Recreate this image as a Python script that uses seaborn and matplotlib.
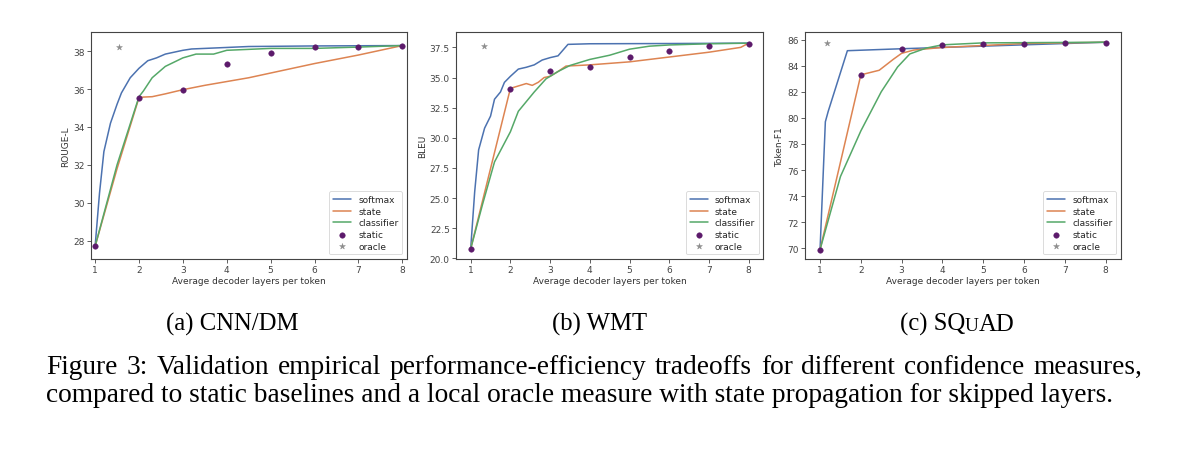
import matplotlib
matplotlib.use("Agg")
import matplotlib.pyplot as plt
import seaborn as sns
import pandas as pd

sns.set_theme(style="ticks", palette="deep")
plt.rcParams['font.family'] = ['DejaVu Sans']

"""
DATA
"""
# (a) CNN/DM
cnn_softmax_x = [1, 1.1, 1.2, 1.35, 1.5, 1.6, 1.8, 2.0, 2.2, 2.4, 2.6, 2.8, 3.0, 3.2, 3.5, 4.0, 4.5, 6.0, 8.0]
cnn_softmax_y = [27.7, 30.5, 32.7, 34.2, 35.2, 35.8, 36.6, 37.1, 37.5, 37.65, 37.85, 37.95, 38.05, 38.12, 38.15, 38.2, 38.25, 38.28, 38.3]
cnn_state_x = [1, 1.5, 2.0, 2.1, 2.3, 2.6, 3.0, 3.5, 4.5, 5.0, 6.0, 7.0, 8.0]
cnn_state_y = [27.7, 31.8, 35.55, 35.58, 35.6, 35.75, 35.97, 36.2, 36.6, 36.85, 37.35, 37.8, 38.3]
cnn_clf_x = [1, 1.5, 2.0, 2.1, 2.3, 2.6, 3.0, 3.3, 3.7, 4.0, 5.0, 6.0, 7.0, 8.0]
cnn_clf_y = [27.7, 32.0, 35.6, 35.9, 36.6, 37.2, 37.65, 37.85, 37.85, 38.05, 38.15, 38.15, 38.22, 38.3]
cnn_static_y = [27.7, 35.55, 35.97, 37.35, 37.9, 38.25, 38.25, 38.3]
cnn_oracle = (1.55, 38.25)

# (b) WMT
wmt_softmax_x = [1, 1.1, 1.2, 1.35, 1.5, 1.6, 1.75, 1.85, 2.0, 2.2, 2.4, 2.6, 2.8, 3.0, 3.2, 3.45, 4.0, 6.0, 8.0]
wmt_softmax_y = [20.8, 25.5, 29.0, 30.8, 31.8, 33.2, 33.8, 34.6, 35.1, 35.7, 35.85, 36.05, 36.45, 36.65, 36.8, 37.75, 37.8, 37.82, 37.85]
wmt_state_x = [1, 2.0, 2.2, 2.4, 2.55, 2.7, 2.85, 3.0, 3.2, 3.4, 4.0, 5.0, 6.0, 7.0, 7.8, 8.0]
wmt_state_y = [20.8, 34.1, 34.3, 34.5, 34.35, 34.6, 35.0, 35.1, 35.5, 35.95, 36.05, 36.3, 36.7, 37.1, 37.5, 37.85]
wmt_clf_x = [1, 1.3, 1.6, 2.0, 2.2, 2.6, 2.9, 3.2, 3.5, 4.0, 4.5, 5.0, 5.5, 6.0, 7.0, 8.0]
wmt_clf_y = [20.8, 24.5, 28.0, 30.5, 32.2, 33.8, 34.9, 35.5, 36.0, 36.5, 36.85, 37.35, 37.6, 37.7, 37.8, 37.85]
wmt_static_y = [20.8, 34.05, 35.5, 35.9, 36.7, 37.2, 37.65, 37.8]
wmt_oracle = (1.33, 37.65)

# (c) SQuAD
sq_softmax_x = [1, 1.13, 1.2, 1.67, 3.0, 4.0, 5.0, 6.0, 7.0, 8.0]
sq_softmax_y = [69.9, 79.7, 80.5, 85.15, 85.3, 85.4, 85.5, 85.6, 85.7, 85.8]
sq_state_x = [1, 2.0, 2.45, 2.8, 3.0, 3.3, 4.0, 5.0, 6.0, 8.0]
sq_state_y = [69.9, 83.3, 83.65, 84.5, 84.95, 85.2, 85.4, 85.55, 85.7, 85.8]
sq_clf_x = [1, 1.5, 2.0, 2.5, 2.9, 3.2, 3.6, 4.0, 5.0, 8.0]
sq_clf_y = [69.9, 75.5, 79.0, 82.0, 83.9, 84.9, 85.35, 85.6, 85.75, 85.8]
sq_static_y = [69.9, 83.3, 85.25, 85.55, 85.65, 85.7, 85.75, 85.75]
sq_oracle = (1.18, 85.75)

static_x = [1, 2, 3, 4, 5, 6, 7, 8]

caption_1 = "Figure 3: Validation empirical performance-efficiency tradeoffs for different confidence measures,"
caption_2 = "compared to static baselines and a local oracle measure with state propagation for skipped layers."

panels = [
    dict(ylabel="ROUGE-L", ylim=(27.03, 39.0), yticks=[28, 30, 32, 34, 36, 38], fmt="{:.0f}",
         softmax=(cnn_softmax_x, cnn_softmax_y), state=(cnn_state_x, cnn_state_y),
         clf=(cnn_clf_x, cnn_clf_y), static=cnn_static_y, oracle=cnn_oracle),
    dict(ylabel="BLEU", ylim=(19.95, 38.75), yticks=[20.0, 22.5, 25.0, 27.5, 30.0, 32.5, 35.0, 37.5], fmt="{:.1f}",
         softmax=(wmt_softmax_x, wmt_softmax_y), state=(wmt_state_x, wmt_state_y),
         clf=(wmt_clf_x, wmt_clf_y), static=wmt_static_y, oracle=wmt_oracle),
    dict(ylabel="Token-F1", ylim=(69.18, 86.56), yticks=[70, 72, 74, 76, 78, 80, 82, 84, 86], fmt="{:.0f}",
         softmax=(sq_softmax_x, sq_softmax_y), state=(sq_state_x, sq_state_y),
         clf=(sq_clf_x, sq_clf_y), static=sq_static_y, oracle=sq_oracle),
]

# axes boxes in figure fractions (left, bottom, width, height)
boxes = [(0.0756, 0.4248, 0.2633, 0.5015),
         (0.3800, 0.4248, 0.2561, 0.5015),
         (0.6708, 0.4248, 0.2631, 0.5015)]
xlims = [(0.9, 8.1), (0.63, 8.37), (0.63, 8.37)]

pal = sns.color_palette("deep")
STATIC_COLOR = "#5c1a6b"
ORACLE_COLOR = "#8c8c8c"
SMALL = 6.5
W, H = 1200, 452

fig = plt.figure(figsize=(12, 4.52), dpi=100)

for box, xl, p in zip(boxes, xlims, panels):
    ax = fig.add_axes(box)
    for key, name, c in [("softmax", "softmax", pal[0]), ("state", "state", pal[1]), ("clf", "classifier", pal[2])]:
        xs, ys = p[key]
        df = pd.DataFrame({"x": xs, "y": ys})
        sns.lineplot(data=df, x="x", y="y", ax=ax, color=c, lw=1.1, label=name,
                     estimator=None, sort=False)
    sns.scatterplot(x=static_x, y=p["static"], ax=ax, color=STATIC_COLOR, s=16,
                    edgecolor=STATIC_COLOR, linewidth=0.3, label="static", zorder=5)
    sns.scatterplot(x=[p["oracle"][0]], y=[p["oracle"][1]], ax=ax, color=ORACLE_COLOR,
                    marker="*", s=20, edgecolor=ORACLE_COLOR, linewidth=0.3, label="oracle", zorder=5)
    ax.set_xlim(*xl)
    ax.set_ylim(*p["ylim"])
    ax.set_xticks(range(1, 9))
    ax.set_yticks(p["yticks"])
    ax.set_yticklabels([p["fmt"].format(v) for v in p["yticks"]])
    ax.set_xlabel("Average decoder layers per token", fontsize=SMALL, color="#333333", labelpad=1)
    ax.set_ylabel(p["ylabel"], fontsize=SMALL, color="#333333", labelpad=2)
    ax.tick_params(labelsize=SMALL, length=3, width=0.6, pad=1.5, colors="#444444")
    for s in ax.spines.values():
        s.set_linewidth(0.8)
        s.set_color("#444444")
    leg = ax.legend(loc="lower right", fontsize=SMALL, frameon=True, handlelength=2.0,
                    borderpad=0.4, labelspacing=0.3, handletextpad=0.8)
    leg.get_frame().set_linewidth(0.6)

"""
CAPTIONS
"""
serif = ["Liberation Serif", "DejaVu Serif"]
SUB = 17.8
CAP = 19.75
renderer = fig.canvas.get_renderer()


def text_width(s, size):
    t = fig.text(0, 0, s, family=serif, fontsize=size)
    w = t.get_window_extent(renderer).width
    t.remove()
    return w


def put_pieces(pieces, x_left, y_base):
    # pieces: list of (text, size), drawn side by side on one baseline
    x = x_left
    for s, size in pieces:
        fig.text(x / W, 1 - y_base / H, s, family=serif, fontsize=size,
                 ha="left", va="baseline", color="black")
        x += text_width(s, size)


sub_y = 331
for label, cx in [("(a) CNN/DM", 232), ("(b) WMT", 600)]:
    fig.text(cx / W, 1 - sub_y / H, label, family=serif, fontsize=SUB,
             ha="center", va="baseline", color="black")
squad = [("(c) SQ", SUB), ("U", SUB * 0.78), ("AD", SUB)]
sq_w = sum(text_width(s, z) for s, z in squad)
put_pieces(squad, 957 - sq_w / 2, sub_y)

# first caption line is justified to the full text width
words = caption_1.split(" ")
x0, x1 = 46, 1142
widths = [text_width(w_, CAP) for w_ in words]
gap = max((x1 - x0 - sum(widths)) / (len(words) - 1), 0.25 * CAP)
x = x0
for w_, ww in zip(words, widths):
    fig.text(x / W, 1 - 374 / H, w_, family=serif, fontsize=CAP,
             ha="left", va="baseline", color="black")
    x += ww + gap

fig.text(x0 / W, 1 - 402 / H, caption_2, family=serif, fontsize=CAP,
         ha="left", va="baseline", color="black")

fig.savefig("out.png", dpi=100, facecolor="white")
